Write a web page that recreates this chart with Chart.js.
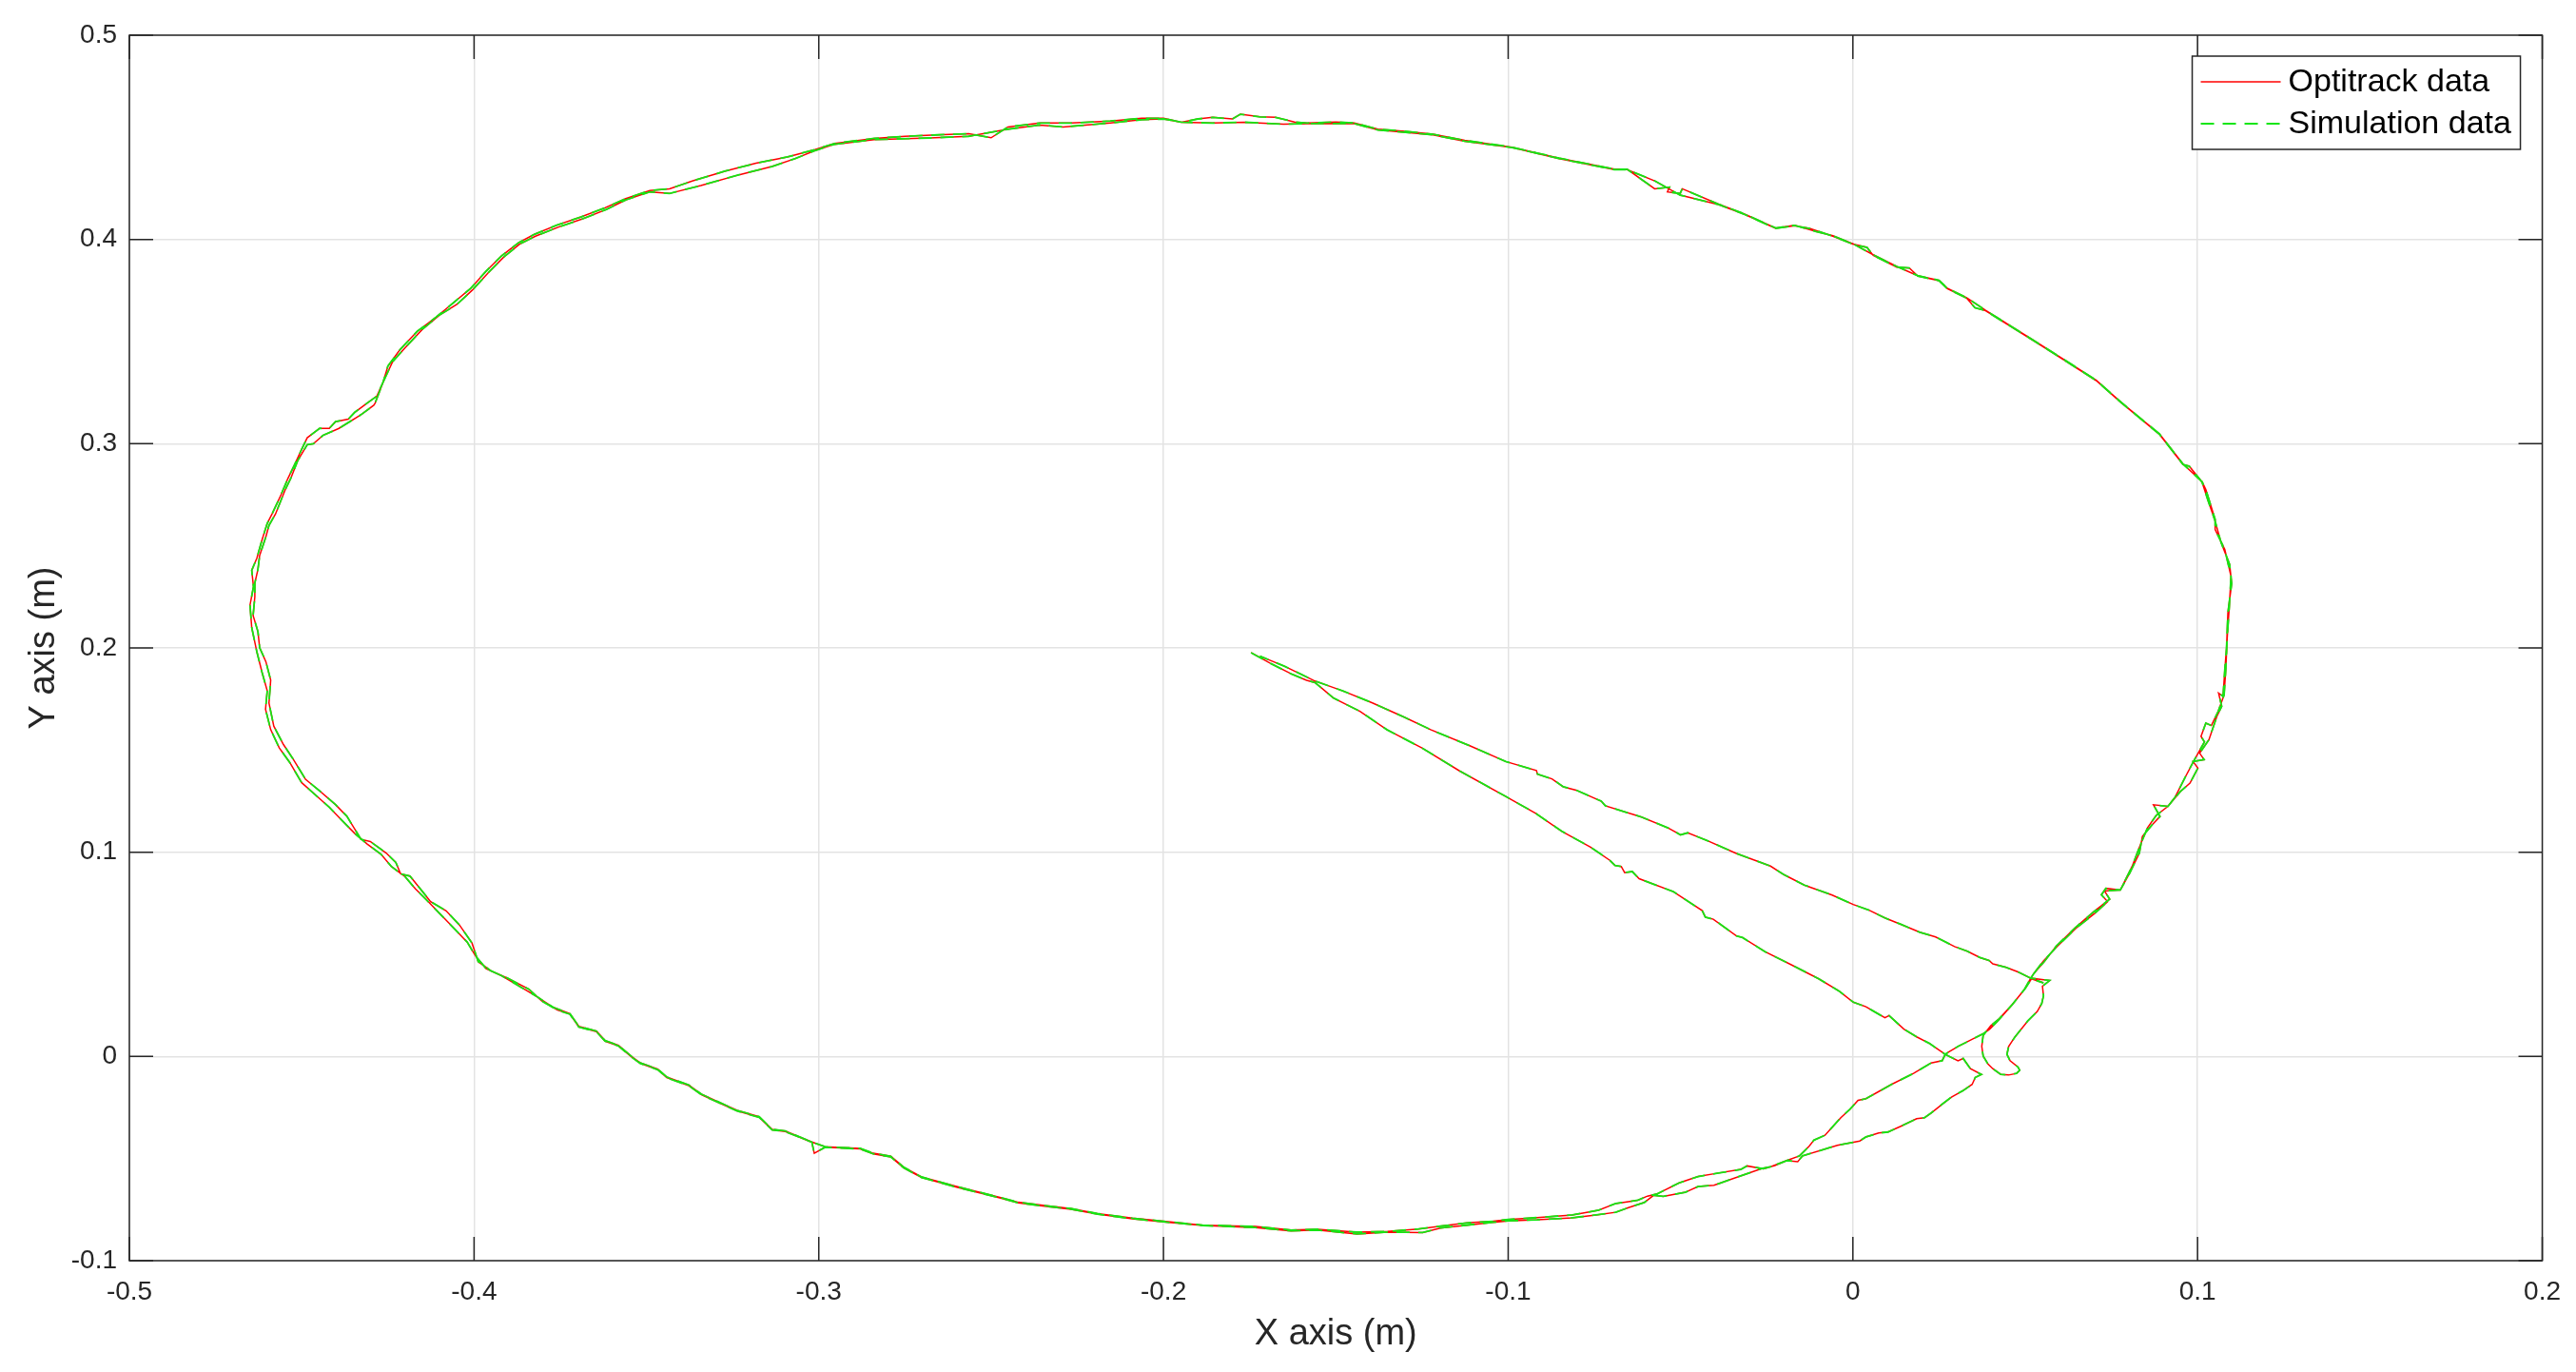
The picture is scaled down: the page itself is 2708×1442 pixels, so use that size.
<!DOCTYPE html>
<html>
<head>
<meta charset="utf-8">
<title>Optitrack vs simulation</title>
<script src="https://cdn.jsdelivr.net/npm/chart.js@4.4.1/dist/chart.umd.min.js"></script>
<style>
  html, body { margin: 0; padding: 0; background: #fff; }
  canvas { display: block; }
</style>
</head>
<body>
<canvas id="grafico" width="2708" height="1442"></canvas>
<script>
// Ejes
const xTicks = [-0.5, -0.4, -0.3, -0.2, -0.1, 0, 0.1, 0.2];
const yTicks = [-0.1, 0, 0.1, 0.2, 0.3, 0.4, 0.5];
const seriesNames = ['Optitrack data', 'Simulation data'];

// Trayectoria, por tramos [x, y] en metros
// 1) del centro hacia abajo-derecha
const lowerSpoke = [
  [-0.1746,0.1977],[-0.1690,0.1925],[-0.1627,0.1871],[-0.1585,0.1842],[-0.1560,0.1830],[-0.1507,0.1755],
  [-0.1430,0.1690],[-0.1352,0.1600],[-0.1250,0.1510],[-0.1141,0.1398],[-0.1007,0.1273],[-0.0920,0.1190],
  [-0.0845,0.1103],[-0.0761,0.1025],[-0.0705,0.0960],[-0.0690,0.0935],[-0.0672,0.0930],[-0.0662,0.0900],
  [-0.0640,0.0905],[-0.0620,0.0870],[-0.0521,0.0807],[-0.0437,0.0714],[-0.0428,0.0682],[-0.0405,0.0672],
  [-0.0338,0.0590],[-0.0320,0.0582],[-0.0254,0.0512],[-0.0180,0.0450],[-0.0099,0.0380],[-0.0040,0.0320],
  [0.0001,0.0266],[0.0038,0.0243],[0.0093,0.0189],[0.0105,0.0200],[0.0148,0.0134],[0.0185,0.0096],
  [0.0222,0.0064],[0.0268,0.0010],[0.0305,-0.0021],[0.0320,-0.0010],[0.0341,-0.0060],[0.0373,-0.0088]
];
// 2) primera vuelta (sentido horario)
const lapOne = [
  [0.0355,-0.0103],[0.0346,-0.0137],[0.0319,-0.0168],[0.0286,-0.0199],[0.0259,-0.0234],[0.0227,-0.0277],
  [0.0208,-0.0300],[0.0185,-0.0305],[0.0139,-0.0342],[0.0102,-0.0370],[0.0075,-0.0375],[0.0038,-0.0394],
  [0.0020,-0.0414],[-0.0045,-0.0435],[-0.0146,-0.0487],[-0.0160,-0.0515],[-0.0192,-0.0510],[-0.0228,-0.0536],
  [-0.0265,-0.0549],[-0.0403,-0.0631],[-0.0449,-0.0637],[-0.0486,-0.0665],[-0.0550,-0.0685],[-0.0578,-0.0680],
  [-0.0605,-0.0715],[-0.0651,-0.0740],[-0.0688,-0.0763],[-0.0740,-0.0775],[-0.0814,-0.0790],[-0.0916,-0.0800],
  [-0.1000,-0.0805],[-0.1044,-0.0812],[-0.1197,-0.0840],[-0.1248,-0.0862],[-0.1350,-0.0860],[-0.1439,-0.0869],
  [-0.1554,-0.0850],[-0.1630,-0.0854],[-0.1733,-0.0838],[-0.1886,-0.0828],[-0.2000,-0.0810],[-0.2090,-0.0795],
  [-0.2192,-0.0772],[-0.2268,-0.0748],[-0.2345,-0.0733],[-0.2421,-0.0717],[-0.2472,-0.0694],[-0.2600,-0.0640],
  [-0.2702,-0.0593],[-0.2753,-0.0546],[-0.2791,-0.0492],[-0.2842,-0.0477],[-0.2880,-0.0453],[-0.2982,-0.0445],
  [-0.3013,-0.0474],[-0.3020,-0.0420],[-0.3097,-0.0368],[-0.3135,-0.0360],[-0.3173,-0.0298],[-0.3237,-0.0267],
  [-0.3288,-0.0228],[-0.3339,-0.0189],[-0.3377,-0.0143],[-0.3441,-0.0104],[-0.3467,-0.0065],[-0.3518,-0.0034],
  [-0.3543,-0.0003],[-0.3581,0.0051],[-0.3620,0.0075],[-0.3645,0.0121],[-0.3696,0.0144],[-0.3722,0.0207],
  [-0.3758,0.0227],[-0.3804,0.0272],[-0.3841,0.0329],[-0.3905,0.0385],[-0.3951,0.0419],[-0.3988,0.0464],
  [-0.4006,0.0555],[-0.4043,0.0645],[-0.4081,0.0713],[-0.4126,0.0758],[-0.4186,0.0883],[-0.4213,0.0894],
  [-0.4227,0.0950],[-0.4255,0.0996],[-0.4301,0.1052],[-0.4328,0.1063],[-0.4369,0.1176],[-0.4402,0.1233],
  [-0.4448,0.1300],[-0.4489,0.1357],[-0.4526,0.1459],[-0.4553,0.1527],[-0.4581,0.1617],[-0.4595,0.1730],
  [-0.4590,0.1843],[-0.4604,0.1933],[-0.4622,0.2001],[-0.4627,0.2080],[-0.4641,0.2159],[-0.4636,0.2250],
  [-0.4636,0.2318],[-0.4627,0.2385],[-0.4622,0.2453],[-0.4604,0.2544],[-0.4595,0.2600],[-0.4576,0.2656],
  [-0.4549,0.2770],[-0.4530,0.2837],[-0.4512,0.2916],[-0.4484,0.2995],[-0.4466,0.3000],[-0.4438,0.3041],
  [-0.4392,0.3075],[-0.4328,0.3142],[-0.4291,0.3188],[-0.4287,0.3199],[-0.4264,0.3301],[-0.4236,0.3402],
  [-0.4200,0.3470],[-0.4150,0.3560],[-0.4100,0.3630],[-0.4050,0.3682],[-0.4005,0.3752],[-0.3959,0.3837],
  [-0.3913,0.3915],[-0.3868,0.3977],[-0.3822,0.4016],[-0.3753,0.4062],[-0.3685,0.4101],[-0.3616,0.4147],
  [-0.3559,0.4194],[-0.3490,0.4233],[-0.3433,0.4225],[-0.3342,0.4264],[-0.3228,0.4318],[-0.3136,0.4357],
  [-0.3068,0.4396],[-0.3011,0.4435],[-0.2954,0.4466],[-0.2839,0.4489],[-0.2679,0.4497],[-0.2565,0.4505],
  [-0.2451,0.4540],[-0.2359,0.4560],[-0.2291,0.4551],[-0.2154,0.4570],[-0.2063,0.4586],[-0.2000,0.4590],
  [-0.1948,0.4574],[-0.1857,0.4570],[-0.1766,0.4574],[-0.1652,0.4564],[-0.1583,0.4567],[-0.1446,0.4567],
  [-0.1378,0.4536],[-0.1218,0.4512],[-0.1126,0.4481],[-0.0989,0.4450],[-0.0852,0.4396],[-0.0692,0.4342],
  [-0.0655,0.4342],[-0.0575,0.4287],[-0.0501,0.4217],[-0.0390,0.4171],[-0.0316,0.4124],[-0.0224,0.4054],
  [-0.0169,0.4067],[-0.0126,0.4054],[-0.0058,0.4016],[0.0000,0.3977],[0.0041,0.3961],[0.0059,0.3922],
  [0.0127,0.3865],[0.0164,0.3860],[0.0188,0.3821],[0.0250,0.3798],[0.0274,0.3759],[0.0330,0.3713],
  [0.0354,0.3666],[0.0385,0.3651],[0.0459,0.3573],[0.0533,0.3495],[0.0620,0.3402],[0.0706,0.3309],
  [0.0779,0.3200],[0.0890,0.3045],[0.0958,0.2898],[0.0976,0.2890],[0.1013,0.2812],[0.1031,0.2719],
  [0.1050,0.2626],[0.1068,0.2517],[0.1093,0.2409],[0.1099,0.2316],[0.1088,0.2172],[0.1084,0.2000],
  [0.1079,0.1894],[0.1074,0.1763],[0.1061,0.1779],[0.1070,0.1714],[0.1056,0.1665],[0.1033,0.1551],
  [0.1006,0.1485],[0.1019,0.1453],[0.0987,0.1444],[0.1001,0.1412],[0.0978,0.1338],[0.0950,0.1297],
  [0.0914,0.1224],[0.0872,0.1232],[0.0891,0.1175],[0.0868,0.1134],[0.0840,0.1077],[0.0831,0.0995],
  [0.0803,0.0897],[0.0776,0.0815],[0.0734,0.0823],[0.0721,0.0791],[0.0739,0.0758],[0.0702,0.0701],
  [0.0647,0.0627],[0.0592,0.0537],[0.0553,0.0468],[0.0525,0.0406],[0.0516,0.0383],[0.0498,0.0329],
  [0.0461,0.0251],[0.0420,0.0173],[0.0397,0.0134],[0.0378,0.0111],[0.0351,0.0088],[0.0305,0.0049],
  [0.0277,0.0021],[0.0268,0.0010]
];
// 3) segunda vuelta
const lapTwo = [
  [0.0259,-0.0021],[0.0227,-0.0032],[0.0176,-0.0083],[0.0112,-0.0137],[0.0038,-0.0207],[0.0015,-0.0215],
  [-0.0008,-0.0258],[-0.0035,-0.0300],[-0.0081,-0.0386],[-0.0113,-0.0410],[-0.0127,-0.0440],[-0.0155,-0.0487],
  [-0.0192,-0.0510],[-0.0238,-0.0540],[-0.0260,-0.0550],[-0.0307,-0.0536],[-0.0325,-0.0553],[-0.0394,-0.0572],
  [-0.0449,-0.0588],[-0.0504,-0.0619],[-0.0568,-0.0673],[-0.0596,-0.0684],[-0.0624,-0.0704],[-0.0688,-0.0720],
  [-0.0738,-0.0753],[-0.0814,-0.0776],[-0.0916,-0.0789],[-0.1000,-0.0798],[-0.1044,-0.0807],[-0.1120,-0.0815],
  [-0.1197,-0.0831],[-0.1260,-0.0845],[-0.1350,-0.0857],[-0.1439,-0.0860],[-0.1554,-0.0846],[-0.1630,-0.0850],
  [-0.1733,-0.0832],[-0.1886,-0.0826],[-0.2000,-0.0807],[-0.2090,-0.0792],[-0.2192,-0.0769],[-0.2268,-0.0745],
  [-0.2345,-0.0730],[-0.2421,-0.0714],[-0.2472,-0.0691],[-0.2600,-0.0637],[-0.2702,-0.0590],[-0.2753,-0.0543],
  [-0.2791,-0.0489],[-0.2842,-0.0474],[-0.2880,-0.0450],[-0.2982,-0.0442],[-0.3020,-0.0419],[-0.3097,-0.0365],
  [-0.3135,-0.0357],[-0.3173,-0.0295],[-0.3237,-0.0264],[-0.3288,-0.0225],[-0.3339,-0.0186],[-0.3377,-0.0140],
  [-0.3441,-0.0101],[-0.3467,-0.0062],[-0.3518,-0.0031],[-0.3543,0.0000],[-0.3581,0.0054],[-0.3620,0.0078],
  [-0.3645,0.0124],[-0.3696,0.0147],[-0.3722,0.0210],[-0.3770,0.0240],[-0.3815,0.0290],[-0.3860,0.0335],
  [-0.3920,0.0395],[-0.3965,0.0430],[-0.3995,0.0490],[-0.4020,0.0560],[-0.4060,0.0630],[-0.4100,0.0700],
  [-0.4140,0.0770],[-0.4170,0.0820],[-0.4200,0.0880],[-0.4240,0.0930],[-0.4270,0.0990],[-0.4310,0.1040],
  [-0.4345,0.1090],[-0.4380,0.1150],[-0.4420,0.1220],[-0.4460,0.1280],[-0.4500,0.1340],[-0.4535,0.1440],
  [-0.4565,0.1510],[-0.4590,0.1600],[-0.4605,0.1700],[-0.4600,0.1790],[-0.4615,0.1880],[-0.4630,0.1980],
  [-0.4645,0.2100],[-0.4650,0.2210],[-0.4640,0.2300],[-0.4645,0.2380],[-0.4630,0.2440],[-0.4615,0.2530],
  [-0.4600,0.2610],[-0.4585,0.2660],[-0.4560,0.2750],[-0.4540,0.2830],[-0.4520,0.2900],[-0.4500,0.2973],
  [-0.4484,0.3029],[-0.4448,0.3075],[-0.4420,0.3075],[-0.4402,0.3108],[-0.4365,0.3120],[-0.4346,0.3154],
  [-0.4310,0.3199],[-0.4282,0.3233],[-0.4264,0.3301],[-0.4250,0.3380],[-0.4215,0.3460],[-0.4165,0.3550],
  [-0.4110,0.3620],[-0.4060,0.3690],[-0.4010,0.3760],[-0.3965,0.3845],[-0.3920,0.3920],[-0.3870,0.3985],
  [-0.3825,0.4025],[-0.3760,0.4070],[-0.3690,0.4110],[-0.3620,0.4155],[-0.3560,0.4200],[-0.3490,0.4240],
  [-0.3433,0.4248],[-0.3365,0.4287],[-0.3273,0.4334],[-0.3182,0.4373],[-0.3091,0.4404],[-0.3011,0.4440],
  [-0.2954,0.4470],[-0.2839,0.4495],[-0.2750,0.4505],[-0.2657,0.4512],[-0.2565,0.4518],[-0.2500,0.4498],
  [-0.2451,0.4551],[-0.2359,0.4570],[-0.2268,0.4570],[-0.2154,0.4580],[-0.2063,0.4593],[-0.2000,0.4593],
  [-0.1948,0.4574],[-0.1900,0.4590],[-0.1857,0.4598],[-0.1800,0.4590],[-0.1777,0.4613],[-0.1720,0.4600],
  [-0.1675,0.4598],[-0.1620,0.4575],[-0.1583,0.4570],[-0.1500,0.4575],[-0.1446,0.4570],[-0.1378,0.4540],
  [-0.1300,0.4530],[-0.1218,0.4515],[-0.1126,0.4485],[-0.0989,0.4452],[-0.0852,0.4398],[-0.0692,0.4344],
  [-0.0655,0.4344],[-0.0575,0.4248],[-0.0532,0.4256],[-0.0538,0.4233],[-0.0501,0.4225],[-0.0495,0.4248],
  [-0.0390,0.4173],[-0.0316,0.4126],[-0.0224,0.4056],[-0.0169,0.4069],[-0.0107,0.4039],[-0.0058,0.4018],
  [0.0000,0.3979],[0.0059,0.3925],[0.0127,0.3868],[0.0188,0.3823],[0.0250,0.3800],[0.0274,0.3761],
  [0.0330,0.3715],[0.0385,0.3653],[0.0459,0.3575],[0.0533,0.3497],[0.0620,0.3404],[0.0706,0.3311],
  [0.0779,0.3202],[0.0890,0.3047],[0.0958,0.2900],[0.1013,0.2814],[0.1024,0.2776],[0.1051,0.2629],
  [0.1051,0.2580],[0.1079,0.2482],[0.1097,0.2351],[0.1092,0.2200],[0.1086,0.2050],[0.1082,0.1900],
  [0.1077,0.1770],[0.1060,0.1690],[0.1040,0.1620],[0.1024,0.1632],[0.1010,0.1567],[0.1020,0.1540],
  [0.0990,0.1450],[0.0965,0.1370],[0.0935,0.1270],[0.0914,0.1224],[0.0880,0.1180],[0.0855,0.1120],
  [0.0835,0.1040],[0.0810,0.0930],[0.0776,0.0815],[0.0730,0.0810],[0.0745,0.0770],[0.0700,0.0710],
  [0.0645,0.0630],[0.0590,0.0540],[0.0555,0.0464],[0.0525,0.0406],[0.0516,0.0383]
];
// 4) gancho final
const hook = [
  [0.0571,0.0372],[0.0550,0.0344],[0.0553,0.0297],[0.0548,0.0259],[0.0535,0.0220],[0.0507,0.0173],
  [0.0470,0.0095],[0.0452,0.0049],[0.0447,0.0010],[0.0456,-0.0021],[0.0479,-0.0052],[0.0484,-0.0068],
  [0.0475,-0.0083],[0.0452,-0.0091],[0.0429,-0.0088],[0.0406,-0.0060],[0.0392,-0.0037],[0.0378,0.0002],
  [0.0374,0.0049],[0.0378,0.0103],[0.0400,0.0150],[0.0425,0.0185],[0.0463,0.0255],[0.0500,0.0333],
  [0.0518,0.0380]
];
// 5) regreso al centro
const upperSpoke = [
  [0.0553,0.0360],[0.0516,0.0383],[0.0479,0.0414],[0.0443,0.0437],[0.0406,0.0453],[0.0395,0.0470],
  [0.0369,0.0484],[0.0332,0.0515],[0.0295,0.0538],[0.0268,0.0561],[0.0240,0.0585],[0.0194,0.0608],
  [0.0139,0.0647],[0.0093,0.0678],[0.0047,0.0716],[0.0001,0.0744],[-0.0060,0.0790],[-0.0141,0.0839],
  [-0.0200,0.0890],[-0.0239,0.0932],[-0.0338,0.0994],[-0.0420,0.1055],[-0.0479,0.1095],[-0.0500,0.1085],
  [-0.0535,0.1118],[-0.0613,0.1172],[-0.0718,0.1227],[-0.0730,0.1250],[-0.0803,0.1304],[-0.0840,0.1320],
  [-0.0873,0.1359],[-0.0915,0.1382],[-0.0918,0.1400],[-0.1007,0.1444],[-0.1110,0.1520],[-0.1225,0.1600],
  [-0.1300,0.1660],[-0.1394,0.1731],[-0.1480,0.1790],[-0.1563,0.1840],[-0.1648,0.1910],[-0.1720,0.1960]
];

// Las dos series coinciden a esta escala: misma trayectoria
const trayectoria = [...lowerSpoke, ...lapOne, ...lapTwo, ...hook, ...upperSpoke]
  .map(([x, y]) => ({ x, y }));

const INK = '#262626';
const FONT = "'Liberation Sans', Arial, Helvetica, sans-serif";
const RED = '#ff0000';
const GREEN = '#14e614';
const TICK = 25;

const fmt = v => {
  const r = Math.round(v * 10) / 10;
  return r === 0 ? '0' : String(r);
};

const marco = {
  id: 'marco',
  beforeDraw(chart) {
    const ctx = chart.ctx;
    ctx.save();
    ctx.fillStyle = '#fff';
    ctx.fillRect(0, 0, chart.width, chart.height);
    ctx.restore();
  },
  afterDraw(chart) {
    const { ctx, chartArea: a, scales: { x, y } } = chart;
    ctx.save();
    ctx.strokeStyle = INK;
    ctx.lineWidth = 1.5;
    ctx.strokeRect(a.left, a.top, a.right - a.left, a.bottom - a.top);
    ctx.beginPath();
    xTicks.forEach(t => {
      const px = x.getPixelForValue(t);
      ctx.moveTo(px, a.bottom); ctx.lineTo(px, a.bottom - TICK);
      ctx.moveTo(px, a.top); ctx.lineTo(px, a.top + TICK);
    });
    yTicks.forEach(t => {
      const py = y.getPixelForValue(t);
      ctx.moveTo(a.left, py); ctx.lineTo(a.left + TICK, py);
      ctx.moveTo(a.right, py); ctx.lineTo(a.right - TICK, py);
    });
    ctx.stroke();

    // Leyenda
    const bx = a.right - 368, by = a.top + 22, bw = 345, bh = 98;
    ctx.fillStyle = '#fff';
    ctx.fillRect(bx, by, bw, bh);
    ctx.strokeStyle = INK;
    ctx.lineWidth = 1.5;
    ctx.strokeRect(bx, by, bw, bh);
    const rows = [
      { name: seriesNames[0], color: RED, dash: [], width: 1.5, dy: 27 },
      { name: seriesNames[1], color: GREEN, dash: [14, 9], width: 1.8, dy: 71 }
    ];
    rows.forEach(r => {
      ctx.beginPath();
      ctx.setLineDash(r.dash);
      ctx.strokeStyle = r.color;
      ctx.lineWidth = r.width;
      ctx.moveTo(bx + 9, by + r.dy);
      ctx.lineTo(bx + 93, by + r.dy);
      ctx.stroke();
      ctx.setLineDash([]);
      ctx.fillStyle = '#000';
      ctx.font = `34px ${FONT}`;
      ctx.textBaseline = 'middle';
      ctx.textAlign = 'left';
      ctx.fillText(r.name, bx + 101, by + r.dy + 1);
    });
    ctx.restore();
  }
};

const ctx = document.getElementById('grafico').getContext('2d');
new Chart(ctx, {
  type: 'scatter',
  data: {
    datasets: [
      {
        label: seriesNames[0],
        data: trayectoria,
        showLine: true,
        borderColor: RED,
        borderWidth: 1.5,
        pointRadius: 0,
        pointHoverRadius: 0,
        tension: 0,
        order: 2
      },
      {
        label: seriesNames[1],
        data: trayectoria,
        showLine: true,
        borderColor: GREEN,
        borderWidth: 1.8,
        borderDash: [14, 9],
        pointRadius: 0,
        pointHoverRadius: 0,
        tension: 0,
        order: 1
      }
    ]
  },
  options: {
    responsive: false,
    animation: false,
    devicePixelRatio: 1,
    layout: { padding: { left: 0, top: 37, right: 33, bottom: 0 } },
    plugins: { legend: { display: false }, tooltip: { enabled: false } },
    scales: {
      x: {
        type: 'linear',
        min: xTicks[0],
        max: xTicks[xTicks.length - 1],
        afterBuildTicks: s => { s.ticks = xTicks.map(v => ({ value: v })); },
        ticks: { callback: fmt, color: INK, font: { family: FONT, size: 28 }, padding: 16, maxRotation: 0, autoSkip: false },
        grid: { color: '#e3e3e3', lineWidth: 1.5, drawTicks: false },
        border: { display: false },
        title: { display: true, text: 'X axis (m)', color: INK, font: { family: FONT, size: 38 }, padding: { top: 0, bottom: 17 } },
        afterFit: s => { s.height = 117; }
      },
      y: {
        type: 'linear',
        min: yTicks[0],
        max: yTicks[yTicks.length - 1],
        afterBuildTicks: s => { s.ticks = yTicks.map(v => ({ value: v })); },
        ticks: { callback: fmt, color: INK, font: { family: FONT, size: 28 }, padding: 13, autoSkip: false },
        grid: { color: '#e3e3e3', lineWidth: 1.5, drawTicks: false },
        border: { display: false },
        title: { display: true, text: 'Y axis (m)', color: INK, font: { family: FONT, size: 38 }, padding: { top: 24, bottom: 0 } },
        afterFit: s => { s.width = 136; }
      }
    }
  },
  plugins: [marco]
});
</script>
</body>
</html>
